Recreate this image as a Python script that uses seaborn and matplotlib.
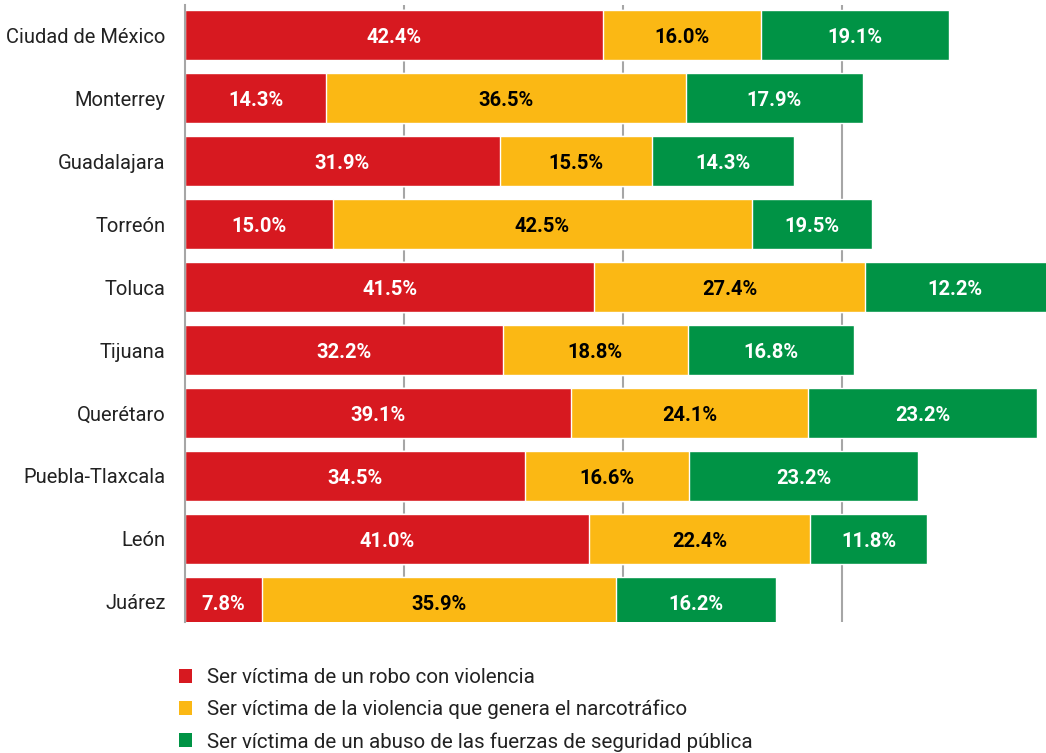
import numpy as np
import pandas as pd
import seaborn as sns
import matplotlib.pyplot as plt
from matplotlib.patches import Patch

# Datos del gráfico
CIUDADES = ['Ciudad de México', 'Monterrey', 'Guadalajara', 'Torreón', 'Toluca',
            'Tijuana', 'Querétaro', 'Puebla-Tlaxcala', 'León', 'Juárez']
ROBO = [42.4, 14.3, 31.9, 15.0, 41.5, 32.2, 39.1, 34.5, 41.0, 7.8]
NARCO = [16.0, 36.5, 15.5, 42.5, 27.4, 18.8, 24.1, 16.6, 22.4, 35.9]
ABUSO = [19.1, 17.9, 14.3, 19.5, 12.2, 16.8, 23.2, 23.2, 11.8, 16.2]
# en el original las barras verdes de Torreón y Toluca están intercambiadas
ABUSO_BARRA = [19.1, 17.9, 14.3, 12.2, 19.5, 16.8, 23.2, 23.2, 11.8, 16.2]
SERIES = ['Ser víctima de un robo con violencia',
          'Ser víctima de la violencia que genera el narcotráfico',
          'Ser víctima de un abuso de las fuerzas de seguridad pública']
COLORES = ['#D71920', '#FBB814', '#009345']
COLOR_TEXTO = ['white', 'black', 'white']
GRID_TICKS = [22.2, 44.4, 66.6]
X_MAX = 87.3

sns.set_style('white')
plt.rcParams['font.family'] = ['Roboto', 'DejaVu Sans']

df = pd.DataFrame({'ciudad': CIUDADES, 'robo': ROBO, 'narco': NARCO,
                   'abuso': ABUSO, 'abuso_barra': ABUSO_BARRA})
df['c1'] = df['robo']
df['c2'] = df['c1'] + df['narco']
df['c3'] = df['c2'] + df['abuso_barra']

fig = plt.figure(figsize=(10.46, 7.53), dpi=100)
ax = fig.add_axes([185 / 1046, 1 - 622 / 753, 1 - 185 / 1046, 617 / 753])

# barras apiladas: se dibuja de la más larga a la más corta
for col, color in zip(['c3', 'c2', 'c1'], COLORES[::-1]):
    sns.barplot(data=df, x=col, y='ciudad', orient='h', color=color,
                width=0.79, saturation=1, ax=ax, zorder=2)

# etiquetas de valores, centradas en el tramo visible
for i, row in df.iterrows():
    tramos = [(0, row['c1']), (row['c1'], row['c2']), (row['c2'], row['c3'])]
    for j, col in enumerate(['robo', 'narco', 'abuso']):
        a, b = tramos[j]
        b = min(b, X_MAX)
        ax.text((a + b) / 2, i + 0.04, f'{row[col]:.1f}%', ha='center', va='center',
                color=COLOR_TEXTO[j], fontsize=14.5, fontweight='bold', zorder=3)

ax.set_xlim(0, X_MAX)
ax.set_ylim(9.32, -0.48)
ax.set_xticks(GRID_TICKS)
ax.set_xticklabels([])
ax.tick_params(axis='x', length=0)
ax.tick_params(axis='y', length=0, pad=14, labelsize=14.5, labelcolor='#222222')
ax.grid(axis='x', color='#A6A6A6', lw=1.5)
ax.set_axisbelow(True)
ax.set_xlabel('')
ax.set_ylabel('')
for s in ['top', 'right', 'bottom']:
    ax.spines[s].set_visible(False)
ax.spines['left'].set_color('#A6A6A6')
ax.spines['left'].set_linewidth(1.5)

handles = [Patch(facecolor=c, edgecolor='none') for c in COLORES]
fig.legend(handles, SERIES, loc='upper left', bbox_to_anchor=(179 / 1046, 1 - 668 / 753),
           frameon=False, fontsize=14.8, handlelength=0.65, handleheight=0.65,
           handletextpad=0.7, labelspacing=0.62, borderpad=0, borderaxespad=0,
           labelcolor='#222222')

fig.savefig('out.png', dpi=100)
